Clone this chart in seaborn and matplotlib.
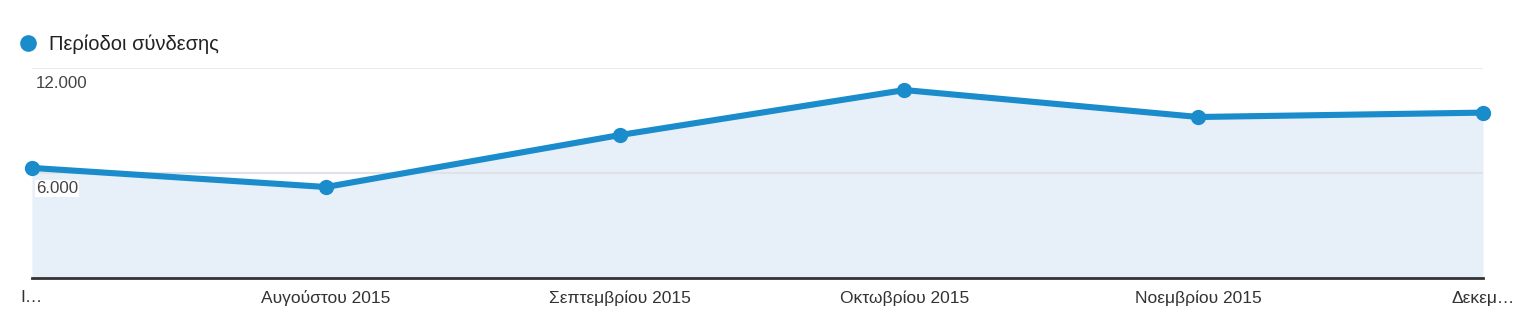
import matplotlib
matplotlib.use("Agg")
import matplotlib.pyplot as plt
import matplotlib.dates as mdates
import seaborn as sns
import numpy as np
import pandas as pd

months = ["2015-07-01", "2015-08-01", "2015-09-01",
          "2015-10-01", "2015-11-01", "2015-12-01"]
tick_labels = ["Ι…", "Αυγούστου 2015", "Σεπτεμβρίου 2015",
               "Οκτωβρίου 2015", "Νοεμβρίου 2015", "Δεκεμ…"]
sessions = [6290, 5200, 8170, 10740, 9200, 9450]
series_name = "Περίοδοι σύνδεσης"
y_ticks = [6000, 12000]
y_tick_labels = ["6.000", "12.000"]

sns.set_theme(style="white")
plt.rcParams['font.family'] = ['Liberation Sans', 'DejaVu Sans']

LINE = "#1a8ccb"
FILL = "#e7eff8"

fig = plt.figure(figsize=(15.21, 3.34), dpi=100)
W, H = 1521, 334
ax = fig.add_axes([32 / W, (H - 278) / H, (1483 - 32) / W, (278 - 68) / H])

df = pd.DataFrame({"date": pd.to_datetime(months), "sessions": sessions})
ax.fill_between(df["date"], df["sessions"], 0, color=FILL, zorder=1, linewidth=0)
for t in y_ticks:
    ax.axhline(t, color="#dfe3e8" if t < 12000 else "#ebebeb", lw=1.5, zorder=2)
sns.lineplot(data=df, x="date", y="sessions", ax=ax, color=LINE, lw=4.4,
             marker="o", markersize=11, markeredgewidth=0, zorder=3,
             clip_on=False)

ax.set_xlim(df["date"].iloc[0], df["date"].iloc[-1])
ax.set_ylim(0, 12000)
ax.set_xlabel("")
ax.set_ylabel("")
ax.set_yticks([])
ax.set_xticks(df["date"])
ax.set_xticklabels(tick_labels, fontsize=12.5, color="#333333")
ax.tick_params(axis="x", length=0, pad=9)
for s in ["top", "right", "left"]:
    ax.spines[s].set_visible(False)
ax.spines["bottom"].set_color("#333333")
ax.spines["bottom"].set_linewidth(2)
ax.spines["bottom"].set_zorder(4)

# y labels inside the plot, just below the gridlines
for t, lab in zip(y_ticks, y_tick_labels):
    ax.annotate(lab, xy=(0, t), xycoords=("axes fraction", "data"),
                xytext=(3, -6), textcoords="offset points",
                ha="left", va="top", fontsize=12.2, color="#444444", zorder=5,
                bbox=dict(boxstyle="square,pad=0.05", fc="white", ec="none"))

# legend marker (round dot) and label
fig.lines.append(matplotlib.lines.Line2D([28 / W], [(H - 43) / H], marker="o",
                 markersize=12, color=LINE, markeredgewidth=0,
                 transform=fig.transFigure))
fig.text(49 / W, (H - 44) / H, series_name, fontsize=14.5, color="#222222",
         ha="left", va="center")

fig.savefig("out.png", dpi=100)
